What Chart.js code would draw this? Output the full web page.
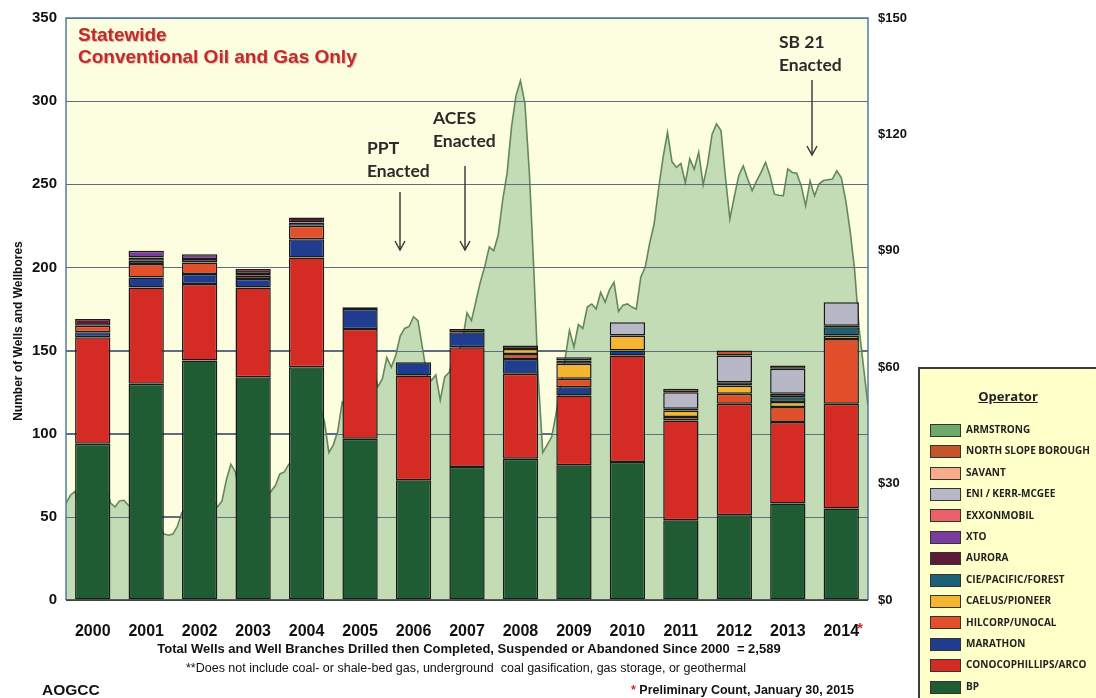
<!DOCTYPE html>
<html>
<head>
<meta charset="utf-8">
<script src="https://cdn.jsdelivr.net/npm/chart.js@4.4.0/dist/chart.umd.min.js"></script>
<style>
  body { margin: 0; background: #fff; overflow: hidden; }
  #wrap { position: relative; width: 1096px; height: 698px; font-family: 'Liberation Sans', Arial, sans-serif; }
  #chart { position: absolute; left: 0; top: 0; }
  .txt { position: absolute; white-space: nowrap; }
  .title { color: #c42a2a; font-weight: bold; font-size: 19px; left: 78px; text-shadow: 1px 1px 1px rgba(120,60,60,0.35); }
  .note { color: #2b2b2b; font-family: Lato, 'Open Sans', sans-serif; font-weight: bold; font-size: 17.5px; line-height: 23px; }
  .narrow { font-family: 'Liberation Sans Narrow', 'Arial Narrow', 'Liberation Sans', sans-serif; color: #111; }
  #legend { position: absolute; left: 918px; top: 367px; width: 178px; height: 331px; box-sizing: border-box;
            border: 2px solid #3c3c3c; border-right: none; border-bottom: none; background: #ffffc9; }
  #legend .head { position: absolute; left: 0; width: 100%; top: 18px; text-align: center; font-weight: bold;
                  font-size: 13px; text-decoration: underline; color: #222; font-family: 'Open Sans', sans-serif; }
  #legend .item { position: absolute; left: 10px; height: 14px; font-size: 10px; font-weight: bold; color: #222;
                  font-family: 'Open Sans', sans-serif; line-height: 14px; }
  #legend .sw { display: inline-block; width: 29px; height: 11px; border: 1px solid #333; vertical-align: middle; margin-right: 5px; }
</style>
</head>
<body>
<div id="wrap">
  <canvas id="chart" width="1096" height="698"></canvas>

  <div class="txt title" style="top:24px">Statewide</div>
  <div class="txt title" style="top:46px">Conventional Oil and Gas Only</div>

  <div class="txt note" style="left:367px;top:136px">PPT<br>Enacted</div>
  <div class="txt note" style="left:433px;top:106px">ACES<br>Enacted</div>
  <div class="txt note" style="left:779px;top:30px">SB 21<br>Enacted</div>

  <svg width="1096" height="698" style="position:absolute;left:0;top:0;pointer-events:none">
    <g stroke="#333" stroke-width="1.4" fill="none">
      <line x1="400" y1="192" x2="400" y2="249"/>
      <polyline points="395,241 400,250 405,241"/>
      <line x1="465" y1="166" x2="465" y2="249"/>
      <polyline points="460,241 465,250 470,241"/>
      <line x1="812" y1="80" x2="812" y2="154"/>
      <polyline points="807,146 812,155 817,146"/>
    </g>
  </svg>

  <div class="txt" style="left:18px;top:331px;transform:translate(-50%,-50%) rotate(-90deg);font-weight:bold;font-size:12px;color:#111">Number of Wells and Wellbores</div>

  <div class="txt" style="left:857px;top:619px;color:#d42a2a;font-weight:bold;font-size:15px">*</div>

  <div class="txt narrow" style="left:469px;top:641px;transform:translateX(-50%);font-weight:bold;font-size:13px">Total Wells and Well Branches Drilled then Completed, Suspended or Abandoned Since 2000&nbsp; = 2,589</div>
  <div class="txt narrow" style="left:466px;top:661px;transform:translateX(-50%);font-size:12.5px">**Does not include coal- or shale-bed gas, underground&nbsp; coal gasification, gas storage, or geothermal</div>
  <div class="txt narrow" style="left:42px;top:681px;font-weight:bold;font-size:15.5px">AOGCC</div>
  <div class="txt narrow" style="left:631px;top:683px;font-weight:bold;font-size:12.5px"><span style="color:#d42a2a">*</span> Preliminary Count, January 30, 2015</div>

  <div id="legend"><div class="head">Operator</div></div>
</div>

<script>
// wells drilled per operator, by year
const years = ['2000', '2001', '2002', '2003', '2004', '2005', '2006', '2007', '2008', '2009', '2010', '2011', '2012', '2013', '2014'];
const bp        = [94, 130, 144, 134, 140, 97, 72, 80, 85, 81, 83, 48, 51, 58, 55];
const conoco    = [64, 58, 46, 54, 66, 66, 63, 72, 51, 42, 64, 60, 67, 49, 63];
const marathon  = [3, 6, 6, 5, 11, 12, 8, 9, 9, 5, 3, 0, 0, 0, 0];
const hilcorp   = [4, 8, 7, 2, 8, 0, 0, 0, 3, 5, 0, 2, 6, 9, 39];
const caelus    = [0, 0, 0, 0, 0, 0, 0, 0, 3, 9, 9, 4, 5, 3, 2];
const cie       = [0, 2, 0, 1, 2, 0, 0, 0, 0, 0, 0, 0, 0, 3, 5];
const aurora    = [4, 2, 2, 3, 3, 1, 0, 0, 2, 2, 0, 1, 2, 2, 1];
const xto       = [0, 4, 3, 0, 0, 0, 0, 0, 0, 0, 0, 0, 0, 0, 0];
const exxon     = [0, 0, 0, 0, 0, 0, 0, 0, 0, 0, 0, 0, 0, 0, 0];
const eni       = [0, 0, 0, 0, 0, 0, 0, 0, 0, 2, 8, 10, 16, 15, 14];
const savant    = [0, 0, 0, 0, 0, 0, 0, 0, 0, 0, 0, 0, 0, 0, 0];
const nsb       = [0, 0, 0, 0, 0, 0, 0, 2, 0, 0, 0, 2, 3, 2, 0];
const armstrong = [0, 0, 0, 0, 0, 0, 0, 0, 0, 0, 0, 0, 0, 0, 0];

// monthly oil price ($/bbl), Jan 2000 .. Jan 2015
const oilPrice = [
  25, 27, 28, 24, 26, 28, 27, 28, 30, 29, 25, 24,
  25.5, 25.7, 24.4, 24, 25, 24.5, 23, 24, 23, 19, 17, 16.7,
  17, 19, 22.5, 23.5, 24, 23, 24.5, 25, 26.5, 26, 24, 25.5,
  31, 35, 33, 27, 25.5, 27, 27.5, 28, 26, 27, 28, 29.5,
  32.5, 33, 35, 35, 38, 36, 38, 42, 43, 50, 46, 38,
  40, 43.5, 51, 50, 47, 53, 56, 62, 63, 59, 55, 57,
  62.5, 60, 63, 68, 70, 70.5, 73, 72, 65, 58, 56.6, 58,
  51.5, 57.5, 58.7, 62, 63, 67, 74, 72, 77, 82, 86, 91,
  90, 94, 103, 110, 122, 130, 133.8, 128, 110, 85, 57, 38,
  40, 42, 48, 55, 62, 69.5, 65.2, 71, 70, 75.5, 76.3, 75,
  79.3, 76.8, 80, 81.9, 74.4, 76, 76.3, 75.5, 75, 83.2, 85.8, 92,
  96.9, 106, 114, 120.5, 113, 111.5, 112.5, 107.5, 113.7, 111, 115.4, 107,
  112.4, 120, 122.7, 121, 109, 98.2, 104, 109.4, 111.9, 108.5, 105.5, 108,
  110.2, 112.8, 109.4, 104.6, 104.3, 104.2, 111.1, 110.2, 110, 106.8, 101.6, 108,
  104.2, 107.2, 108.1, 108.3, 108.5, 110.6, 108.9, 103, 95, 85, 70, 60,
  50
];

// bottom of stack first
const operators = [
  { name: 'BP', data: bp, color: '#1f5b33' },
  { name: 'CONOCOPHILLIPS/ARCO', data: conoco, color: '#d42b24' },
  { name: 'MARATHON', data: marathon, color: '#1f3c8e' },
  { name: 'HILCORP/UNOCAL', data: hilcorp, color: '#e2502b' },
  { name: 'CAELUS/PIONEER', data: caelus, color: '#f4b630' },
  { name: 'CIE/PACIFIC/FOREST', data: cie, color: '#1f6079' },
  { name: 'AURORA', data: aurora, color: '#5c1b36' },
  { name: 'XTO', data: xto, color: '#7b3d9b' },
  { name: 'EXXONMOBIL', data: exxon, color: '#e9616b' },
  { name: 'ENI / KERR-MCGEE', data: eni, color: '#b8b7c8' },
  { name: 'SAVANT', data: savant, color: '#f8ac8c' },
  { name: 'NORTH SLOPE BOROUGH', data: nsb, color: '#c2552b' },
  { name: 'ARMSTRONG', data: armstrong, color: '#6fa86b' },
];

const barSets = operators.map(op => ({
  type: 'bar',
  label: op.name,
  data: op.data,
  backgroundColor: op.color,
  borderColor: '#1a1a1a',
  borderWidth: ctx => (ctx.raw ? 1.5 : 0),
  borderSkipped: false,
  grouped: false,
  categoryPercentage: 1,
  barPercentage: 0.66,
  xAxisID: 'x',
  yAxisID: 'y',
  order: 1,
}));

const OIL_INDEX = barSets.length;
const oilSet = {
  type: 'line',
  label: 'Oil price',
  data: oilPrice.map((v, i) => ({ x: i, y: v })),
  xAxisID: 'x2',
  yAxisID: 'y1',
  fill: 'origin',
  backgroundColor: '#c4dcb6',
  borderColor: '#62885c',
  borderWidth: 1.6,
  pointRadius: 0,
  tension: 0,
  order: 2,
};

const GRID = '#5d6e7c';

// pale yellow plot background, grid lines repainted over the price area
const plotDecor = {
  id: 'plotDecor',
  beforeDraw(chart) {
    const { ctx, chartArea: a } = chart;
    ctx.save();
    ctx.fillStyle = '#fdfde0';
    ctx.fillRect(a.left, a.top, a.right - a.left, a.bottom - a.top);
    ctx.restore();
  },
  afterDatasetDraw(chart, args) {
    if (args.index !== OIL_INDEX) return;
    const { ctx, chartArea: a, scales } = chart;
    ctx.save();
    ctx.strokeStyle = GRID;
    ctx.lineWidth = 1;
    scales.y.ticks.forEach(t => {
      const py = Math.round(scales.y.getPixelForValue(t.value)) + 0.5;
      ctx.beginPath();
      ctx.moveTo(a.left, py);
      ctx.lineTo(a.right, py);
      ctx.stroke();
    });
    ctx.restore();
  },
  afterDraw(chart) {
    const { ctx, chartArea: a } = chart;
    ctx.save();
    ctx.strokeStyle = '#4d79b0';
    ctx.lineWidth = 1.5;
    ctx.beginPath();
    ctx.moveTo(a.left, a.bottom);
    ctx.lineTo(a.left, a.top);
    ctx.lineTo(a.right, a.top);
    ctx.lineTo(a.right, a.bottom);
    ctx.stroke();
    ctx.strokeStyle = '#333';
    ctx.beginPath();
    ctx.moveTo(a.left, a.bottom);
    ctx.lineTo(a.right, a.bottom);
    ctx.stroke();
    ctx.restore();
  },
};

new Chart(document.getElementById('chart'), {
  data: { labels: years, datasets: [...barSets, oilSet] },
  options: {
    responsive: false,
    animation: false,
    layout: { padding: { top: 17, left: 0, right: 0, bottom: 0 } },
    plugins: { legend: { display: false }, tooltip: { enabled: false } },
    scales: {
      x: {
        stacked: true,
        grid: { display: false, drawTicks: false },
        border: { display: false },
        ticks: { color: '#111', font: { family: 'Liberation Sans', weight: 'bold', size: 16 }, padding: 22, maxRotation: 0 },
        afterFit: s => { s.height = 98; },
      },
      x2: { type: 'linear', display: false, min: 0, max: 180 },
      y: {
        stacked: true,
        position: 'left',
        min: 0, max: 350,
        grid: { color: GRID, drawTicks: false },
        border: { display: false },
        ticks: { stepSize: 50, color: '#111', font: { family: 'Liberation Sans', weight: 'bold', size: 15 }, padding: 9 },
        afterFit: s => { s.width = 66; },
      },
      y1: {
        position: 'right',
        min: 0, max: 150,
        grid: { display: false, drawTicks: false },
        border: { display: false },
        ticks: { stepSize: 30, color: '#111', font: { family: 'Liberation Sans', weight: 'bold', size: 13 }, padding: 10,
                 callback: v => '$' + v },
        afterFit: s => { s.width = 228; },
      },
    },
  },
  plugins: [plotDecor],
});

// legend box, top entry first
const legend = document.getElementById('legend');
operators.slice().reverse().forEach((op, i) => {
  const row = document.createElement('div');
  row.className = 'item';
  row.style.top = (53 + i * 21.4) + 'px';
  row.innerHTML = '<span class="sw" style="background:' + op.color + '"></span>' + op.name;
  legend.appendChild(row);
});
</script>
</body>
</html>
